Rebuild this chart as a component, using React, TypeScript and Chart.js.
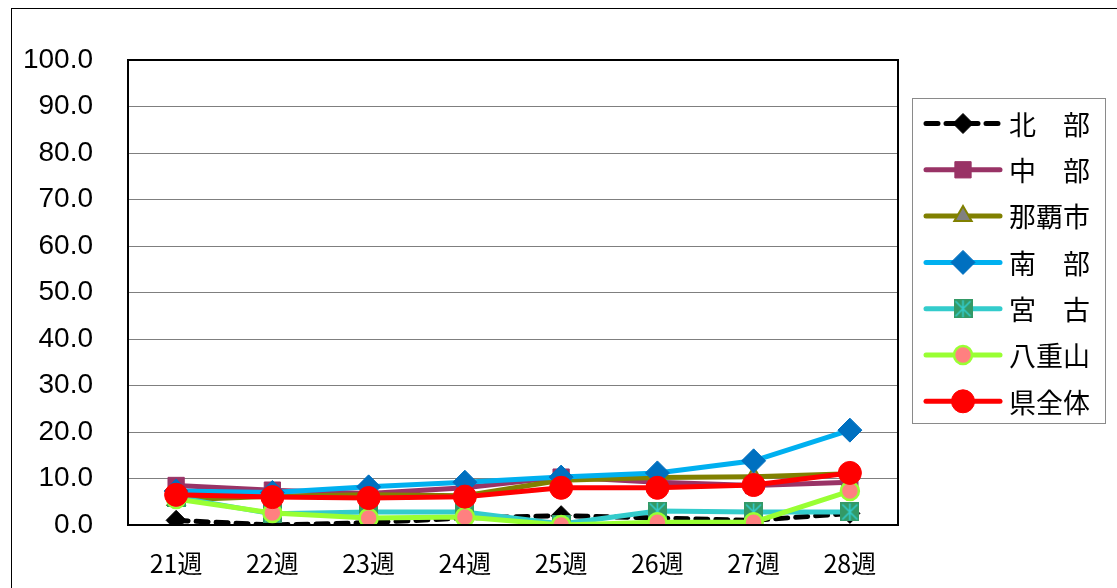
import React, { useEffect, useRef } from "react";
import { Chart, registerables } from "chart.js";

Chart.register(...registerables);

const weeks = ["21週", "22週", "23週", "24週", "25週", "26週", "27週", "28週"];
const yTicks = [0, 10, 20, 30, 40, 50, 60, 70, 80, 90, 100];

const seriesNames = ["北　部", "中　部", "那覇市", "南　部", "宮　古", "八重山", "県全体"];
const hokubu = [1.0, 0.0, 0.5, 1.5, 2.0, 1.5, 1.0, 2.5];
const chubu = [8.5, 7.5, 6.8, 8.0, 10.3, 9.2, 8.5, 9.2];
const naha = [5.4, 6.2, 6.5, 6.3, 9.6, 10.2, 10.4, 11.0];
const nanbu = [7.3, 7.0, 8.2, 9.2, 10.3, 11.2, 13.8, 20.4];
const miyako = [6.0, 2.4, 2.8, 2.8, 0.2, 3.0, 2.8, 2.8];
const yaeyama = [5.6, 2.6, 1.5, 1.7, 0.0, 0.6, 0.6, 7.3];
const kenzentai = [6.5, 6.0, 5.8, 6.1, 8.0, 8.0, 8.6, 11.2];

const FONT = "'Liberation Sans', 'Noto Sans CJK JP', sans-serif";
const CJK = "'Noto Sans CJK JP', sans-serif";

function makeMiyakoMarker(): HTMLCanvasElement {
  const c = document.createElement("canvas");
  c.width = 19;
  c.height = 19;
  const g = c.getContext("2d")!;
  g.fillStyle = "#339966";
  g.fillRect(0, 0, 19, 19);
  g.strokeStyle = "#33CCCC";
  g.lineWidth = 1.6;
  g.beginPath();
  g.moveTo(9.5, 1);
  g.lineTo(9.5, 18);
  g.moveTo(2, 2);
  g.lineTo(17, 17);
  g.moveTo(17, 2);
  g.lineTo(2, 17);
  g.stroke();
  return c;
}

type Style = {
  line: string;
  dash: number[];
  point: any;
  radius: number;
  fill: string;
  border: string;
  borderWidth: number;
};

export default function App() {
  const ref = useRef<HTMLCanvasElement | null>(null);

  useEffect(() => {
    const canvas = ref.current!;
    const miyakoMarker = makeMiyakoMarker();
    const values = [hokubu, chubu, naha, nanbu, miyako, yaeyama, kenzentai];
    const styles: Style[] = [
      { line: "#000000", dash: [12, 8], point: "rectRot", radius: 10, fill: "#000000", border: "#000000", borderWidth: 1 },
      { line: "#993366", dash: [], point: "rect", radius: 11.5, fill: "#993366", border: "#993366", borderWidth: 1 },
      { line: "#808000", dash: [], point: "triangle", radius: 10, fill: "#808080", border: "#808000", borderWidth: 2 },
      { line: "#00B0F0", dash: [], point: "rectRot", radius: 12, fill: "#0070C0", border: "#0070C0", borderWidth: 1 },
      { line: "#33CCCC", dash: [], point: miyakoMarker, radius: 10, fill: "#339966", border: "#339966", borderWidth: 1 },
      { line: "#99FF33", dash: [], point: "circle", radius: 9, fill: "#FF8080", border: "#99FF33", borderWidth: 2.5 },
      { line: "#FF0000", dash: [], point: "circle", radius: 11.5, fill: "#FF0000", border: "#FF0000", borderWidth: 1 },
    ];

    const datasets = values.map((v, i) => ({
      label: seriesNames[i],
      data: v,
      borderColor: styles[i].line,
      borderWidth: 5,
      borderDash: styles[i].dash,
      borderCapStyle: "round" as const,
      pointStyle: styles[i].point,
      pointRadius: styles[i].radius,
      pointHoverRadius: styles[i].radius,
      pointBackgroundColor: styles[i].fill,
      pointBorderColor: styles[i].border,
      pointBorderWidth: styles[i].borderWidth,
      tension: 0,
      order: 6 - i,
    }));

    const drawMarker = (ctx: CanvasRenderingContext2D, s: Style, x: number, y: number) => {
      ctx.save();
      ctx.setLineDash([]);
      ctx.fillStyle = s.fill;
      ctx.strokeStyle = s.border;
      ctx.lineWidth = s.borderWidth;
      const r = s.radius;
      ctx.beginPath();
      if (s.point === "rectRot") {
        ctx.moveTo(x, y - r);
        ctx.lineTo(x + r, y);
        ctx.lineTo(x, y + r);
        ctx.lineTo(x - r, y);
        ctx.closePath();
        ctx.fill();
        ctx.stroke();
      } else if (s.point === "rect") {
        const h = r * Math.SQRT1_2;
        ctx.rect(x - h, y - h, 2 * h, 2 * h);
        ctx.fill();
        ctx.stroke();
      } else if (s.point === "triangle") {
        ctx.moveTo(x, y - r);
        ctx.lineTo(x + r * 0.866, y + r * 0.5);
        ctx.lineTo(x - r * 0.866, y + r * 0.5);
        ctx.closePath();
        ctx.fill();
        ctx.stroke();
      } else if (s.point === "circle") {
        ctx.arc(x, y, r, 0, Math.PI * 2);
        ctx.fill();
        ctx.stroke();
      } else {
        const img = s.point as HTMLCanvasElement;
        ctx.drawImage(img, x - img.width / 2, y - img.height / 2);
      }
      ctx.restore();
    };

    const framePlugin = {
      id: "frame",
      beforeDraw(chart: any) {
        const ctx = chart.ctx as CanvasRenderingContext2D;
        ctx.save();
        ctx.fillStyle = "#ffffff";
        ctx.fillRect(0, 0, chart.width, chart.height);
        ctx.strokeStyle = "#000000";
        ctx.lineWidth = 1;
        ctx.strokeRect(11.5, 8.5, 1300, 700);
        ctx.restore();
      },
      afterDatasetsDraw(chart: any) {
        const ctx = chart.ctx as CanvasRenderingContext2D;
        const a = chart.chartArea;
        ctx.save();
        ctx.strokeStyle = "#000000";
        ctx.lineWidth = 2;
        ctx.strokeRect(a.left, a.top, a.right - a.left, a.bottom - a.top);
        ctx.restore();
      },
      afterDraw(chart: any) {
        const ctx = chart.ctx as CanvasRenderingContext2D;
        ctx.save();
        ctx.strokeStyle = "#8a8a8a";
        ctx.lineWidth = 1;
        ctx.strokeRect(912.5, 98.5, 193, 325);
        const rowY0 = 123.5;
        const step = 46.3;
        for (let i = 0; i < seriesNames.length; i++) {
          const y = rowY0 + step * i;
          const s = styles[i];
          ctx.save();
          ctx.strokeStyle = s.line;
          ctx.lineWidth = 5;
          ctx.lineCap = "round";
          ctx.setLineDash(s.dash);
          ctx.beginPath();
          ctx.moveTo(926, y);
          ctx.lineTo(1000, y);
          ctx.stroke();
          ctx.restore();
          drawMarker(ctx, s, 963, y);
          ctx.fillStyle = "#000000";
          ctx.font = `27px ${CJK}`;
          ctx.textBaseline = "middle";
          ctx.textAlign = "left";
          ctx.fillText(seriesNames[i], 1009, y + 1);
        }
        ctx.restore();
      },
    };

    const chart = new Chart(canvas, {
      type: "line",
      data: { labels: weeks, datasets },
      options: {
        animation: false,
        responsive: false,
        maintainAspectRatio: false,
        events: [],
        layout: { padding: { top: 60, right: 219, left: 0, bottom: 0 } },
        plugins: {
          legend: { display: false },
          tooltip: { enabled: false },
        },
        scales: {
          x: {
            offset: true,
            grid: { display: false, drawTicks: false },
            border: { display: false },
            ticks: {
              color: "#000000",
              padding: 23,
              font: { family: CJK, size: 25 },
              maxRotation: 0,
            },
            afterFit: (s: any) => {
              s.height = 63;
            },
          },
          y: {
            min: 0,
            max: 100,
            afterBuildTicks: (s: any) => {
              s.ticks = yTicks.map((v) => ({ value: v }));
            },
            grid: { color: "#7f7f7f", lineWidth: 1, drawTicks: false },
            border: { display: false },
            ticks: {
              color: "#000000",
              padding: 35,
              font: { family: FONT, size: 28 },
              callback: (v: any) => Number(v).toFixed(1),
            },
            afterFit: (s: any) => {
              s.width = 128;
            },
          },
        },
      },
      plugins: [framePlugin],
    });

    return () => chart.destroy();
  }, []);

  return (
    <div style={{ position: "fixed", left: 0, top: 0, width: 1117, height: 588, background: "#fff" }}>
      <canvas ref={ref} width={1117} height={588} style={{ display: "block", width: 1117, height: 588 }} />
    </div>
  );
}
